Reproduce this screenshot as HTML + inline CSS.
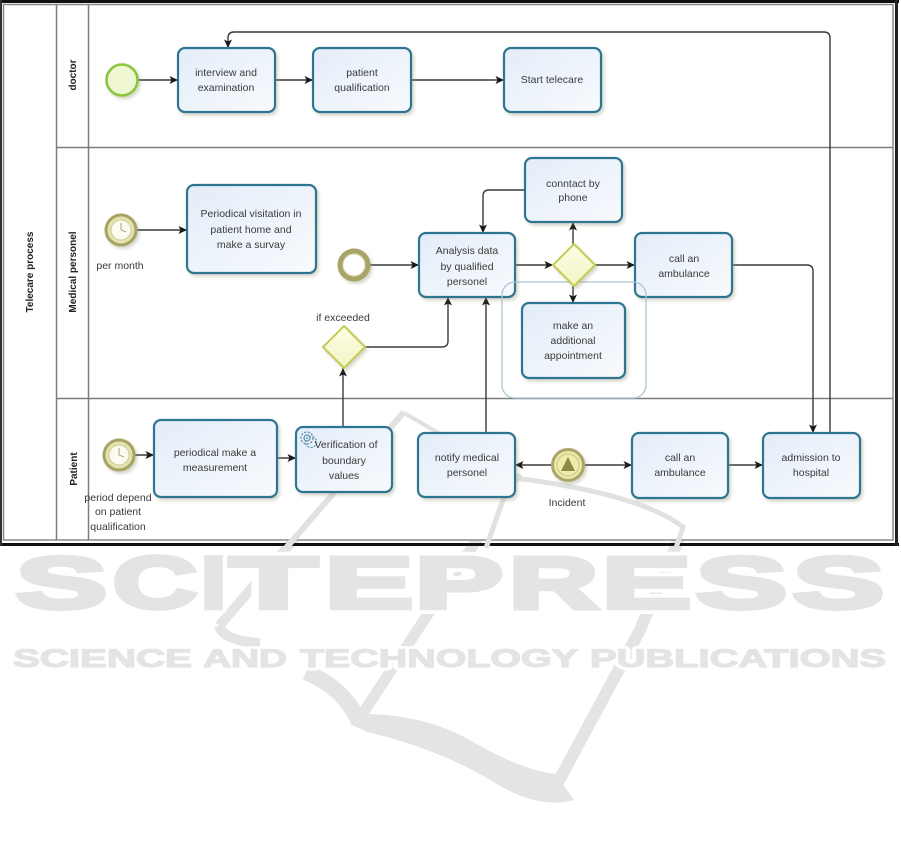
<!DOCTYPE html>
<html><head><meta charset="utf-8">
<style>
html,body{margin:0;padding:0;background:#fff;}
svg{display:block;}
</style></head><body>
<svg width="901" height="841" viewBox="0 0 901 841" xmlns="http://www.w3.org/2000/svg" font-family="'Liberation Sans', Arial, sans-serif">
<defs>
<marker id="a" markerWidth="10" markerHeight="10" refX="8.5" refY="4.5" orient="auto" markerUnits="userSpaceOnUse"><path d="M0,0.5 L8.5,4.5 L0,8.5 L2,4.5 z" fill="#1a1a1a"/></marker>
<linearGradient id="tg" x1="0" y1="0" x2="1" y2="1"><stop offset="0" stop-color="#e3edf8"/><stop offset="1" stop-color="#f8fafd"/></linearGradient>
<linearGradient id="gg" x1="0" y1="0" x2="0" y2="1"><stop offset="0" stop-color="#fdfde6"/><stop offset="1" stop-color="#f3f3c4"/></linearGradient>
<filter id="sh" x="-10%" y="-10%" width="130%" height="130%"><feDropShadow dx="2" dy="2.5" stdDeviation="1.6" flood-color="#8a8a70" flood-opacity="0.35"/></filter>
</defs>

<!-- ===== Watermark ===== -->
<g fill="none" stroke="#e3e5e4" stroke-linecap="butt">
  <path d="M404,412 L219,626" stroke-width="10"/>
  <path d="M219,626 Q224,641 260,643" stroke-width="10"/>
  <path d="M404,413 L517,478" stroke-width="5"/>
  <path d="M515,478 Q640,494 683,527" stroke-width="6"/>
  <path d="M683,527 C672,560 652,600 640,630 L556,786" stroke-width="12"/>
  <path d="M520,474 L363,713" stroke-width="11"/>
  <path d="M306,672 Q343,688 357,718" stroke-width="16"/>
</g>
<path d="M352,714 Q420,712 470,740 Q520,770 556,774 L574,800 Q540,810 495,783 Q440,749 367,732 L350,724 Z" fill="#e3e5e4"/>

<!-- knockout halo for big letters -->
<g fill="#fff" font-weight="bold" font-size="73" stroke="#fff" stroke-width="12" stroke-linejoin="round">
  <text x="16" y="608" textLength="91" lengthAdjust="spacingAndGlyphs">S</text>
  <text x="113" y="608" textLength="84" lengthAdjust="spacingAndGlyphs">C</text>
  <text x="201" y="608" textLength="25" lengthAdjust="spacingAndGlyphs">I</text>
  <text x="230" y="608" textLength="87" lengthAdjust="spacingAndGlyphs">T</text>
  <text x="325" y="608" textLength="88" lengthAdjust="spacingAndGlyphs">E</text>
  <text x="415" y="608" textLength="88" lengthAdjust="spacingAndGlyphs">P</text>
  <text x="509" y="608" textLength="89" lengthAdjust="spacingAndGlyphs">R</text>
  <text x="602" y="608" textLength="89" lengthAdjust="spacingAndGlyphs">E</text>
  <text x="696" y="608" textLength="91" lengthAdjust="spacingAndGlyphs">S</text>
  <text x="793" y="608" textLength="91" lengthAdjust="spacingAndGlyphs">S</text>
</g>
<g fill="#e3e5e4" font-weight="bold" font-size="73" stroke="#e3e5e4" stroke-width="4.5" stroke-linejoin="miter">
  <text x="16" y="608" textLength="91" lengthAdjust="spacingAndGlyphs">S</text>
  <text x="113" y="608" textLength="84" lengthAdjust="spacingAndGlyphs">C</text>
  <text x="201" y="608" textLength="25" lengthAdjust="spacingAndGlyphs">I</text>
  <text x="230" y="608" textLength="87" lengthAdjust="spacingAndGlyphs">T</text>
  <text x="325" y="608" textLength="88" lengthAdjust="spacingAndGlyphs">E</text>
  <text x="415" y="608" textLength="88" lengthAdjust="spacingAndGlyphs">P</text>
  <text x="509" y="608" textLength="89" lengthAdjust="spacingAndGlyphs">R</text>
  <text x="602" y="608" textLength="89" lengthAdjust="spacingAndGlyphs">E</text>
  <text x="696" y="608" textLength="91" lengthAdjust="spacingAndGlyphs">S</text>
  <text x="793" y="608" textLength="91" lengthAdjust="spacingAndGlyphs">S</text>
</g>
<g fill="#e3e5e4" font-weight="bold" font-size="25" stroke="#fff" stroke-width="7" paint-order="stroke" stroke-linejoin="round">
  <text x="13" y="667" textLength="179" lengthAdjust="spacingAndGlyphs">SCIENCE</text>
  <text x="203" y="667" textLength="84" lengthAdjust="spacingAndGlyphs">AND</text>
  <text x="300" y="667" textLength="278" lengthAdjust="spacingAndGlyphs">TECHNOLOGY</text>
  <text x="590" y="667" textLength="296" lengthAdjust="spacingAndGlyphs">PUBLICATIONS</text>
</g>
<g fill="#e3e5e4" font-weight="bold" font-size="25" stroke="#e3e5e4" stroke-width="1.2">
  <text x="13" y="667" textLength="179" lengthAdjust="spacingAndGlyphs">SCIENCE</text>
  <text x="203" y="667" textLength="84" lengthAdjust="spacingAndGlyphs">AND</text>
  <text x="300" y="667" textLength="278" lengthAdjust="spacingAndGlyphs">TECHNOLOGY</text>
  <text x="590" y="667" textLength="296" lengthAdjust="spacingAndGlyphs">PUBLICATIONS</text>
</g>

<!-- ===== Diagram frame ===== -->
<rect x="0" y="0" width="899" height="3" fill="#111"/>
<rect x="0" y="543" width="899" height="3" fill="#111"/>
<rect x="0" y="0" width="2" height="546" fill="#333"/>
<rect x="895" y="0" width="3" height="546" fill="#222"/>
<rect x="3.5" y="4.5" width="889.5" height="535.5" fill="#fff" stroke="#8a8a8a" stroke-width="1.5"/>

<!-- watermark lines visible in diagram area (behind boxes) -->
<g fill="none" stroke="#e0e2e1">
  <path d="M404,412 L286,548" stroke-width="6"/>
  <path d="M404,413 L517,478" stroke-width="4"/>
  <path d="M515,478 Q640,494 683,527 L676,548" stroke-width="5"/>
  <path d="M520,474 L503,500 L486,548" stroke-width="5"/>
</g>

<g stroke="#7d7d7d" stroke-width="1.5">
  <line x1="56.5" y1="4.5" x2="56.5" y2="540"/>
  <line x1="88.5" y1="4.5" x2="88.5" y2="540"/>
  <line x1="56.5" y1="147.5" x2="893" y2="147.5"/>
  <line x1="56.5" y1="398.5" x2="893" y2="398.5"/>
</g>

<!-- lane labels -->
<g font-weight="bold" font-size="10" fill="#222" text-anchor="middle">
  <text transform="translate(33,272) rotate(-90)">Telecare process</text>
  <text transform="translate(76,75) rotate(-90)">doctor</text>
  <text transform="translate(76,272) rotate(-90)">Medical personel</text>
  <text transform="translate(77,469) rotate(-90)">Patient</text>
</g>

<!-- ===== Connectors ===== -->
<g fill="none" stroke="#3a3a3a" stroke-width="1.4" marker-end="url(#a)">
  <path d="M138,80 L178,80"/>
  <path d="M275,80 L313,80"/>
  <path d="M411,80 L504,80"/>
  <path d="M830,433 L830,38 Q830,32 824,32 L234,32 Q228,32 228,38 L228,48"/>
  <path d="M137,230 L187,230"/>
  <path d="M370,265 L419,265"/>
  <path d="M515,265 L553,265"/>
  <path d="M595,265 L635,265"/>
  <path d="M573,245 L573,222"/>
  <path d="M573,286 L573,303"/>
  <path d="M525,190 L489,190 Q483,190 483,196 L483,233"/>
  <path d="M732,265 L807,265 Q813,265 813,271 L813,433"/>
  <path d="M365,347 L442,347 Q448,347 448,341 L448,297"/>
  <path d="M343,427 L343,368"/>
  <path d="M486,433 L486,297"/>
  <path d="M135,455 L154,455"/>
  <path d="M277,458 L296,458"/>
  <path d="M551,465 L515,465"/>
  <path d="M585,465 L632,465"/>
  <path d="M728,465 L763,465"/>
</g>

<!-- ===== Tasks ===== -->
<g fill="url(#tg)" stroke="#2d7592" stroke-width="2.2" filter="url(#sh)">
  <rect x="178" y="48" width="97" height="64" rx="7"/>
  <rect x="313" y="48" width="98" height="64" rx="7"/>
  <rect x="504" y="48" width="97" height="64" rx="7"/>
  <rect x="187" y="185" width="129" height="88" rx="7"/>
  <rect x="419" y="233" width="96" height="64" rx="7"/>
  <rect x="525" y="158" width="97" height="64" rx="7"/>
  <rect x="522" y="303" width="103" height="75" rx="7"/>
  <rect x="635" y="233" width="97" height="64" rx="7"/>
  <rect x="154" y="420" width="123" height="77" rx="7"/>
  <rect x="296" y="427" width="96" height="65" rx="7"/>
  <rect x="418" y="433" width="97" height="64" rx="7"/>
  <rect x="632" y="433" width="96" height="65" rx="7"/>
  <rect x="763" y="433" width="97" height="65" rx="7"/>
</g>

<!-- group -->
<rect x="502" y="282" width="144" height="116" rx="13" fill="none" stroke="#a9c7d3" stroke-width="1.3"/>

<!-- ===== Gateways ===== -->
<g fill="url(#gg)" stroke="#c3cc55" stroke-width="2" filter="url(#sh)">
  <path d="M574,244 L595,265 L574,286 L553,265 Z"/>
  <path d="M344,326 L365,347 L344,368 L323,347 Z"/>
</g>

<!-- ===== Events ===== -->
<circle cx="122" cy="80" r="15.5" fill="#eef7d2" stroke="#8cc540" stroke-width="2.6" filter="url(#sh)"/>

<!-- timer medical -->
<g filter="url(#sh)">
  <circle cx="121" cy="230" r="15" fill="#e4e2b0" stroke="#a7a365" stroke-width="3"/>
  <circle cx="121" cy="230" r="10" fill="#fbfbf0" stroke="#cfcb94" stroke-width="1"/>
</g>
<g stroke="#9c9a70" stroke-width="0.9">
  <line x1="121" y1="230" x2="121" y2="223"/><line x1="121" y1="230" x2="126" y2="232"/>
</g>
<!-- timer patient -->
<g filter="url(#sh)">
  <circle cx="119" cy="455" r="15" fill="#e4e2b0" stroke="#a7a365" stroke-width="3"/>
  <circle cx="119" cy="455" r="10" fill="#fbfbf0" stroke="#cfcb94" stroke-width="1"/>
</g>
<g stroke="#9c9a70" stroke-width="0.9">
  <line x1="119" y1="455" x2="119" y2="448"/><line x1="119" y1="455" x2="124" y2="457"/>
</g>
<!-- intermediate start -->
<circle cx="354" cy="265" r="14" fill="#fff" stroke="#a8a468" stroke-width="5" filter="url(#sh)"/>
<circle cx="354" cy="265" r="11" fill="none" stroke="#d6d3a4" stroke-width="1"/>
<!-- incident -->
<circle cx="568" cy="465" r="15.5" fill="#ece8a8" stroke="#aaa66a" stroke-width="3" filter="url(#sh)"/>
<circle cx="568" cy="465" r="11" fill="#f1ecaa" stroke="#c9c58e" stroke-width="1"/>
<path d="M568,457 L575,471 L561,471 Z" fill="#8c8a45"/>

<!-- service icon -->
<g fill="none" stroke="#5a8db0" stroke-width="1.2">
  <circle cx="307" cy="438" r="6" stroke-dasharray="2.2 1.4"/>
  <circle cx="307" cy="438" r="3"/>
  <circle cx="311" cy="442" r="5.5" stroke-dasharray="2 1.4"/>
</g>

<!-- ===== Labels ===== -->
<g font-size="10.5" fill="#3a3a3a" text-anchor="middle">
  <text x="226" y="76">interview and</text>
  <text x="226" y="91">examination</text>
  <text x="362" y="76">patient</text>
  <text x="362" y="91">qualification</text>
  <text x="552" y="83">Start telecare</text>

  <text x="251" y="217">Periodical visitation in</text>
  <text x="251" y="233">patient home and</text>
  <text x="251" y="248">make a survay</text>

  <text x="467" y="254">Analysis data</text>
  <text x="467" y="270">by qualified</text>
  <text x="467" y="285">personel</text>

  <text x="573" y="187">conntact by</text>
  <text x="573" y="201">phone</text>

  <text x="573" y="329">make an</text>
  <text x="573" y="344">additional</text>
  <text x="573" y="359">appointment</text>

  <text x="684" y="262">call an</text>
  <text x="684" y="277">ambulance</text>

  <text x="120" y="269">per month</text>
  <text x="343" y="321">if exceeded</text>

  <text x="215" y="456">periodical make a</text>
  <text x="215" y="471">measurement</text>

  <text x="346" y="448">Verification of</text>
  <text x="344" y="464">boundary</text>
  <text x="344" y="479">values</text>

  <text x="467" y="461">notify medical</text>
  <text x="467" y="476">personel</text>

  <text x="680" y="461">call an</text>
  <text x="680" y="476">ambulance</text>

  <text x="811" y="461">admission to</text>
  <text x="811" y="476">hospital</text>

  <text x="567" y="506">Incident</text>

  <text x="118" y="501">period depend</text>
  <text x="118" y="515">on patient</text>
  <text x="118" y="530">qualification</text>
</g>
</svg>
</body></html>
